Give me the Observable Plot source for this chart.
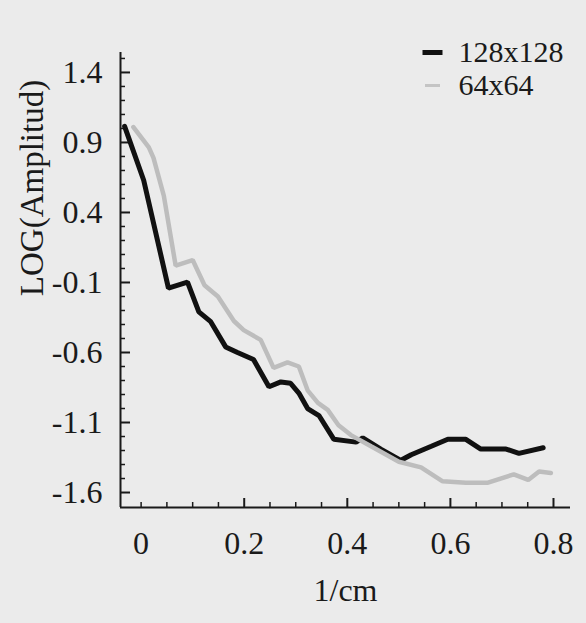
<!DOCTYPE html>
<html>
<head>
<meta charset="utf-8">
<script src="https://cdn.jsdelivr.net/npm/d3@7"></script>
<script src="https://cdn.jsdelivr.net/npm/@observablehq/plot@0.6"></script>
<style>
  html, body { margin: 0; padding: 0; background: #ebebeb; }
  #chart svg { display: block; background: #ebebeb; }
</style>
</head>
<body>
<div id="chart"></div>
<script>
// Series: 128x128 (black)
const freq128 = [-0.032, 0.005, 0.053, 0.090, 0.112, 0.135, 0.164, 0.187, 0.218, 0.248, 0.271, 0.290, 0.306, 0.323, 0.345, 0.374, 0.417, 0.430, 0.465, 0.504, 0.524, 0.563, 0.595, 0.630, 0.659, 0.708, 0.733, 0.780];
const amp128  = [1.015, 0.63, -0.14, -0.097, -0.31, -0.38, -0.56, -0.60, -0.65, -0.845, -0.81, -0.82, -0.89, -1.00, -1.05, -1.22, -1.24, -1.21, -1.29, -1.37, -1.33, -1.27, -1.22, -1.22, -1.29, -1.29, -1.32, -1.28];
// Series: 64x64 (grey)
const freq64 = [-0.015, 0.015, 0.024, 0.044, 0.067, 0.100, 0.123, 0.149, 0.180, 0.199, 0.232, 0.257, 0.284, 0.306, 0.323, 0.343, 0.362, 0.383, 0.407, 0.446, 0.500, 0.543, 0.585, 0.630, 0.673, 0.723, 0.751, 0.772, 0.795];
const amp64  = [1.01, 0.865, 0.79, 0.52, 0.02, 0.06, -0.12, -0.20, -0.375, -0.44, -0.51, -0.71, -0.67, -0.70, -0.87, -0.96, -1.01, -1.12, -1.19, -1.27, -1.38, -1.42, -1.52, -1.53, -1.53, -1.47, -1.51, -1.45, -1.46];

// Tick labels
const yTicks = [1.4, 0.9, 0.4, -0.1, -0.6, -1.1, -1.6];
const yTickLabels = ["1.4", "0.9", "0.4", "-0.1", "-0.6", "-1.1", "-1.6"];
const yMinor = [1.5, 1.3, 1.2, 1.1, 1.0, 0.8, 0.7, 0.6, 0.5, 0.3, 0.2, 0.1, 0.0, -0.2, -0.3, -0.4, -0.5, -0.7, -0.8, -0.9, -1.0, -1.2, -1.3, -1.4, -1.5];
const xTicks = [0, 0.2, 0.4, 0.6, 0.8];
const xTickLabels = ["0", "0.2", "0.4", "0.6", "0.8"];
const xMajor = [0.2, 0.4, 0.6, 0.8];
const xMinor = [0, 0.05, 0.1, 0.15, 0.25, 0.3, 0.35, 0.45, 0.5, 0.55, 0.65, 0.7, 0.75];

const seriesNames = ["128x128", "64x64"];
const xLabel = "1/cm";
const yLabel = "LOG(Amplitud)";

const rows128 = freq128.map((f, i) => ({f, a: amp128[i]}));
const rows64 = freq64.map((f, i) => ({f, a: amp64[i]}));

const W = 586, H = 623;
const mL = 120, mR = 16, mT = 52, mB = 116;
const plotW = W - mL - mR, plotH = H - mT - mB;
const xDomain = [-0.04, 0.833];
const yDomain = [-1.707, 1.5425];
const font = "Liberation Serif, Times New Roman, serif";

const bar = (w, h) => ({draw(ctx) { ctx.rect(-w / 2, -h / 2, w, h); }});

const chart = Plot.plot({
  width: W, height: H,
  marginLeft: mL, marginRight: mR, marginTop: mT, marginBottom: mB,
  style: {fontFamily: font, background: "#ebebeb", color: "#1a1a1a"},
  x: {domain: xDomain},
  y: {domain: yDomain},
  marks: [
    Plot.axisY(yTicks, {tickSize: 0, tickPadding: 18, fontSize: 32, tickFormat: (d) => yTickLabels[yTicks.indexOf(d)], label: null}),
    Plot.axisX(xTicks, {tickSize: 0, tickPadding: 24, fontSize: 32, tickFormat: (d) => xTickLabels[xTicks.indexOf(d)], label: null}),
    Plot.ruleX([xDomain[0]], {stroke: "#1a1a1a", strokeWidth: 2}),
    Plot.ruleY([yDomain[0]], {stroke: "#1a1a1a", strokeWidth: 2}),
    Plot.tickY(yTicks, {y: (d) => d, insetRight: plotW - 10, stroke: "#1a1a1a", strokeWidth: 2}),
    Plot.tickY(yMinor, {y: (d) => d, insetRight: plotW - 5, stroke: "#1a1a1a", strokeWidth: 1.5}),
    Plot.tickX(xMajor, {x: (d) => d, insetTop: plotH - 9, stroke: "#1a1a1a", strokeWidth: 2}),
    Plot.tickX(xMinor, {x: (d) => d, insetTop: plotH - 5, stroke: "#1a1a1a", strokeWidth: 1.5}),
    Plot.line(rows128, {x: "f", y: "a", stroke: "#111111", strokeWidth: 5, strokeLinejoin: "miter"}),
    Plot.line(rows64, {x: "f", y: "a", stroke: "#bdbdbd", strokeWidth: 4.5, strokeLinejoin: "miter"}),
    // axis titles
    Plot.text([xLabel], {frameAnchor: "bottom", dy: 93, lineAnchor: "bottom", fontSize: 32, fill: "#1a1a1a"}),
    Plot.text([yLabel], {frameAnchor: "left", dx: -88, dy: -92, rotate: -90, textAnchor: "middle", lineAnchor: "middle", fontSize: 33, fill: "#1a1a1a"}),
    // legend
    Plot.dot([seriesNames[0]], {x: null, y: null, frameAnchor: "top-left", dx: 312, dy: 0, symbol: bar(20, 5), r: 5, fill: "#111111", stroke: null}),
    Plot.dot([seriesNames[1]], {x: null, y: null, frameAnchor: "top-left", dx: 312, dy: 33, symbol: bar(15, 3), r: 5, fill: "#c4c4c4", stroke: null}),
    Plot.text([seriesNames[0]], {frameAnchor: "top-left", dx: 338, dy: 9, textAnchor: "start", lineAnchor: "bottom", fontSize: 30, fill: "#1a1a1a"}),
    Plot.text([seriesNames[1]], {frameAnchor: "top-left", dx: 338, dy: 42, textAnchor: "start", lineAnchor: "bottom", fontSize: 30, fill: "#1a1a1a"})
  ]
});
document.getElementById("chart").appendChild(chart);
</script>
</body>
</html>
